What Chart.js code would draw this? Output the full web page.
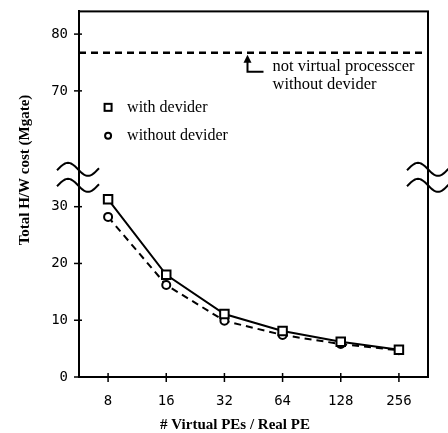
<!DOCTYPE html>
<html>
<head>
<meta charset="utf-8">
<script src="https://cdn.jsdelivr.net/npm/chart.js@4.4.1/dist/chart.umd.min.js"></script>
<style>
  body { margin: 0; background: #fff; }
  #wrap { width: 448px; height: 433px; }
</style>
</head>
<body>
<div id="wrap"><canvas id="cost-chart"></canvas></div>
<script>
// data
const peRatio = ['8', '16', '32', '64', '128', '256'];
const withDevider = [31.3, 18.0, 11.1, 8.1, 6.2, 4.8];
const withoutDevider = [28.2, 16.2, 9.9, 7.4, 5.8, 4.7];
const notVirtualCost = 76.7;
const lowerTicks = [0, 10, 20, 30];
const upperTicks = [70, 80];

const serif = '"Liberation Serif", "Times New Roman", serif';
const mono = '"DejaVu Sans Mono", monospace';

// frame, break marks, crossing ticks, legend, note and titles
const decor = {
    id: 'decor',
    afterDraw(chart) {
        const c = chart.ctx;
        const a = chart.chartArea;
        const yLow = chart.scales.y;
        const yUp = chart.scales.y2;
        const x = chart.scales.x;
        c.save();
        c.strokeStyle = '#000';
        c.fillStyle = '#000';
        c.lineWidth = 2;
        c.strokeRect(a.left, a.top, a.right - a.left, a.bottom - a.top);

        // ticks crossing the axes
        c.lineWidth = 1.5;
        [[yLow, lowerTicks], [yUp, upperTicks]].forEach(([s, t]) => {
            t.forEach(v => {
                const py = s.getPixelForValue(v);
                c.beginPath(); c.moveTo(a.left - 5, py); c.lineTo(a.left + 3, py); c.stroke();
            });
        });
        peRatio.forEach((p, i) => {
            const px = x.getPixelForValue(i);
            c.beginPath(); c.moveTo(px, a.bottom - 4); c.lineTo(px, a.bottom + 5); c.stroke();
        });

        // axis break marks
        const brk = yLow.top;
        c.lineWidth = 2;
        [a.left - 1, a.right].forEach(cx => {
            [brk - 9, brk + 7].forEach(cy => {
                c.beginPath();
                for (let dx = -21; dx <= 21; dx++) {
                    const py = cy + 6.5 * Math.sin(Math.PI * dx / 20);
                    if (dx === -21) c.moveTo(cx + dx, py); else c.lineTo(cx + dx, py);
                }
                c.stroke();
            });
        });

        // legend
        c.font = '16px ' + serif;
        c.textBaseline = 'middle';
        c.lineWidth = 2;
        const lx = x.getPixelForValue(0);
        const ly1 = yUp.getPixelForValue(67.1);
        const ly2 = yUp.getPixelForValue(62.1);
        c.strokeRect(lx - 3.5, ly1 - 3.5, 7, 7);
        c.beginPath(); c.arc(lx, ly2, 3, 0, Math.PI * 2); c.stroke();
        c.fillText(chart.data.datasets[0].label, lx + 19, ly1);
        c.fillText(chart.data.datasets[1].label, lx + 19, ly2);

        // note under the dashed line
        const ax = (x.getPixelForValue(2) + x.getPixelForValue(3)) / 2 - 6;
        const top = yUp.getPixelForValue(notVirtualCost) + 2;
        const corner = top + 17;
        c.lineWidth = 2;
        c.beginPath();
        c.moveTo(ax, top + 6); c.lineTo(ax, corner); c.lineTo(ax + 16, corner);
        c.stroke();
        c.beginPath();
        c.moveTo(ax, top); c.lineTo(ax - 4, top + 8); c.lineTo(ax + 4, top + 8); c.closePath();
        c.fill();
        c.font = '16.5px ' + serif;
        c.textBaseline = 'alphabetic';
        c.fillText('not virtual processcer', ax + 25, corner - 1);
        c.fillText('without devider', ax + 25, corner + 17);

        // axis titles
        c.font = 'bold 15px ' + serif;
        c.textAlign = 'center';
        c.fillText('# Virtual PEs / Real PE', 235, 429);
        c.translate(29, 170);
        c.rotate(-Math.PI / 2);
        c.fillText('Total H/W cost (Mgate)', 0, 0);
        c.restore();
    }
};

const ctx = document.getElementById('cost-chart');

new Chart(ctx, {
    type: 'line',
    data: {
        labels: peRatio,
        datasets: [{
            label: 'with devider',
            data: withDevider,
            borderColor: '#000',
            borderWidth: 2,
            pointStyle: 'rect',
            pointRadius: 6,
            pointBorderWidth: 2,
            pointBackgroundColor: '#fff',
            pointBorderColor: '#000',
            yAxisID: 'y',
            order: 1
        }, {
            label: 'without devider',
            data: withoutDevider,
            borderColor: '#000',
            borderWidth: 2,
            borderDash: [7, 5],
            pointStyle: 'circle',
            pointRadius: 4,
            pointBorderWidth: 2,
            pointBackgroundColor: '#fff',
            pointBorderColor: '#000',
            yAxisID: 'y',
            order: 2
        }, {
            label: 'not virtual processcer without devider',
            data: [{ x: 0, y: notVirtualCost }, { x: 1, y: notVirtualCost }],
            borderColor: '#000',
            borderWidth: 2.5,
            borderDash: [7, 5],
            pointRadius: 0,
            xAxisID: 'x2',
            yAxisID: 'y2',
            order: 3
        }]
    },
    options: {
        responsive: true,
        maintainAspectRatio: false,
        animation: false,
        layout: { padding: { top: 5, right: 20, left: 0, bottom: 0 } },
        plugins: {
            legend: { display: false },
            tooltip: { enabled: false }
        },
        scales: {
            x: {
                type: 'category',
                offset: true,
                grid: { display: false },
                border: { color: '#000', width: 2 },
                ticks: { color: '#000', font: { family: mono, size: 14 }, padding: 8 },
                afterFit(s) { s.height = 56; }
            },
            x2: {
                type: 'linear',
                min: 0,
                max: 1,
                display: false
            },
            y: {
                type: 'linear',
                position: 'left',
                stack: 'cost',
                stackWeight: 35,
                min: 0,
                max: 35,
                grid: { display: false },
                border: { color: '#000', width: 2 },
                afterBuildTicks(s) { s.ticks = lowerTicks.map(v => ({ value: v })); },
                ticks: { color: '#000', font: { family: mono, size: 14 }, padding: 3 },
                afterFit(s) { s.width = 79; }
            },
            y2: {
                type: 'linear',
                position: 'left',
                stack: 'cost',
                stackWeight: 29.4,
                min: 54.6,
                max: 84,
                grid: { display: false },
                border: { color: '#000', width: 2 },
                afterBuildTicks(s) { s.ticks = upperTicks.map(v => ({ value: v })); },
                ticks: { color: '#000', font: { family: mono, size: 14 }, padding: 3 },
                afterFit(s) { s.width = 79; }
            }
        }
    },
    plugins: [decor]
});
</script>
</body>
</html>
